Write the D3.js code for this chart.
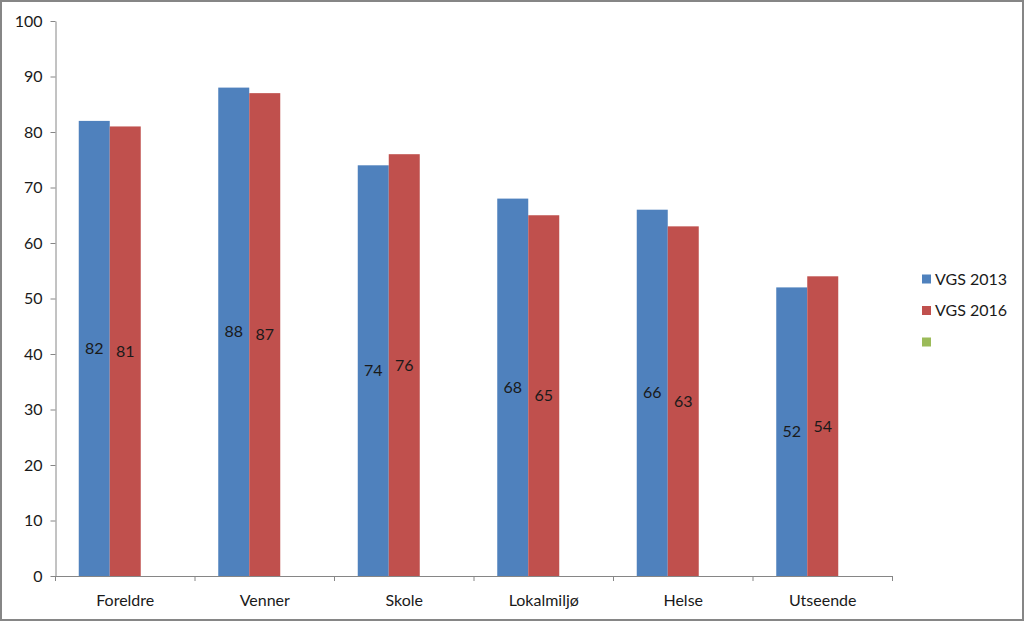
<!DOCTYPE html>
<html><head><meta charset="utf-8">
<script src="https://cdn.jsdelivr.net/npm/d3@7"></script>
<style>body{margin:0;background:#fff}svg{display:block}text{font-family:Lato,"Open Sans",sans-serif;}</style>
</head><body>
<script>
const categories = ["Foreldre","Venner","Skole","Lokalmiljø","Helse","Utseende"];
const seriesNames = ["VGS 2013","VGS 2016",""];
const vgs2013 = [82,88,74,68,66,52];
const vgs2016 = [81,87,76,65,63,54];
const series3 = [null,null,null,null,null,null];
const yTicks = [0,10,20,30,40,50,60,70,80,90,100];
const colors = ["#4F81BD","#C0504D","#9BBB59"];

const W=1024,H=621,FS=16;
const svg=d3.select("body").append("svg").attr("width",W).attr("height",H);
svg.append("rect").attr("x",1).attr("y",1).attr("width",W-2).attr("height",H-2)
  .attr("fill","#fff").attr("stroke","#868686").attr("stroke-width",2);

const x0=55.5,x1=892.5,yTop=21,yBot=576;
const x=d3.scaleBand().domain(categories).range([x0,x1]).paddingInner(0).paddingOuter(0);
const y=d3.scaleLinear().domain([0,100]).range([yBot,yTop]);
const sub=d3.scaleBand().domain([0,1,2]).range([0,x.bandwidth()]).paddingOuter(0.75).paddingInner(0);

const data=[vgs2013,vgs2016,series3];
data.forEach((vals,si)=>{
  const g=svg.append("g");
  categories.forEach((c,i)=>{
    const v=vals[i];
    if(v==null) return;
    const bx=x(c)+sub(si), bw=sub.bandwidth();
    g.append("rect").attr("x",bx).attr("y",y(v)).attr("width",bw).attr("height",yBot-y(v)).attr("fill",colors[si]);
    g.append("text").attr("x",bx+bw/2).attr("y",y(v/2)).attr("dy","0.35em").attr("text-anchor","middle")
      .attr("font-size",FS).attr("fill","#1a1a1a").text(v);
  });
});

// y axis
const ya=svg.append("g").attr("transform",`translate(${x0},0)`)
  .call(d3.axisLeft(y).tickValues(yTicks).tickSize(5).tickPadding(8).tickSizeOuter(0));
ya.select(".domain").attr("stroke","#868686");
ya.selectAll(".tick line").attr("stroke","#868686");
ya.selectAll("text").attr("font-size",FS).attr("fill","#1a1a1a").attr("font-family","Lato,'Open Sans',sans-serif");

// x axis
const xa=svg.append("g").attr("transform",`translate(0,${yBot})`);
xa.append("line").attr("x1",x0).attr("x2",x1).attr("y1",0.5).attr("y2",0.5).attr("stroke","#868686");
const bounds=categories.map(c=>x(c)).concat([x1]);
xa.selectAll("line.t").data(bounds).enter().append("line").attr("class","t")
  .attr("x1",d=>d).attr("x2",d=>d).attr("y1",0).attr("y2",5).attr("stroke","#868686");
xa.selectAll("text.c").data(categories).enter().append("text").attr("class","c")
  .attr("x",d=>x(d)+x.bandwidth()/2).attr("y",30).attr("text-anchor","middle")
  .attr("font-size",FS).attr("fill","#1a1a1a").text(d=>d);

// legend
const lg=svg.append("g").attr("transform","translate(922,0)");
seriesNames.forEach((n,i)=>{
  const cy=279+i*31.5;
  lg.append("rect").attr("x",0).attr("y",cy-4.5).attr("width",9).attr("height",9).attr("fill",colors[i]);
  lg.append("text").attr("x",13).attr("y",cy).attr("dy","0.35em").attr("font-size",FS).attr("fill","#1a1a1a").text(n);
});
</script>
</body></html>
